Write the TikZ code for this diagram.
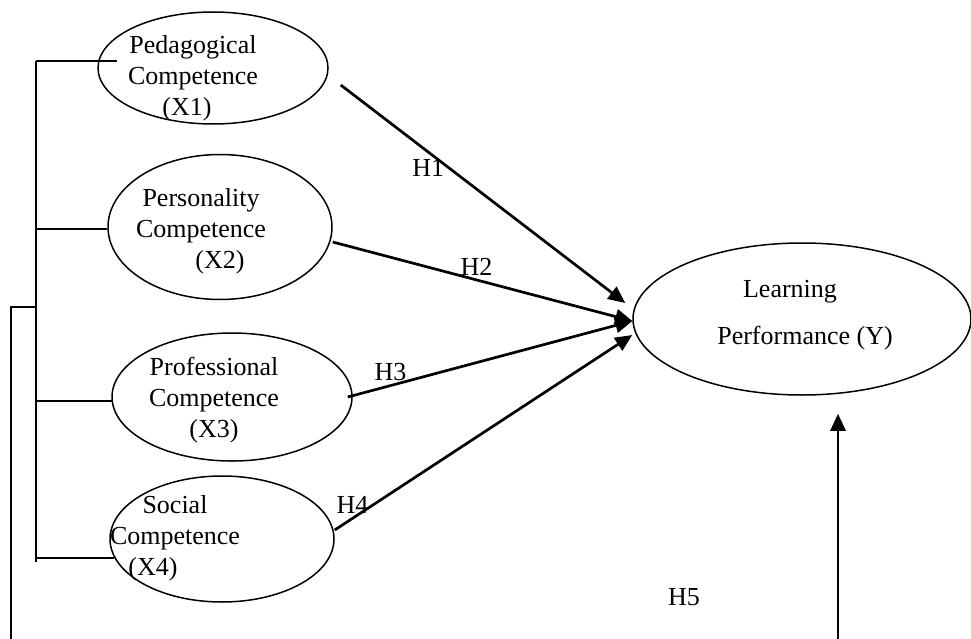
\documentclass[tikz,border=0pt]{standalone}
\usepackage{fontspec}
\setmainfont{Liberation Serif}
\usetikzlibrary{shapes.geometric, arrows.meta, positioning}
\tikzset{
  model/.style={
	x=1pt, y=-1pt, % one unit is one pixel of the scan, y runs down
	font=\fontsize{26}{31}\selectfont, % Times-like text
  },
  construct/.style={ellipse, draw, line width=1.5pt, inner sep=0pt}, % the latent variables
  caption/.style={align=center, inner sep=0pt}, % text set inside an ellipse
  hypo/.style={-{Triangle[length=17pt, width=15pt]}, line width=2.7pt}, % hypothesis arrows
  bracket/.style={line width=1.6pt}, % the joining lines on the left
}
\begin{document}
\begin{tikzpicture}[model]
\useasboundingbox (0,0) rectangle (971,639);

\node[construct, minimum width=230pt, minimum height=112pt] (X1) at (213,68) {};
\node[construct, minimum width=224pt, minimum height=145pt] (X2) at (220,227) {};
\node[construct, minimum width=240pt, minimum height=128pt] (X3) at (232,397) {};
\node[construct, minimum width=224pt, minimum height=126pt] (X4) at (222,539) {};
\node[construct, minimum width=338pt, minimum height=152pt] (Y) at (802,319) {};

\node[caption, xshift=-20pt, yshift=-10pt] (X1text) at (X1) {Pedagogical\\Competence\\\hspace*{-12pt}(X1)};
\node[caption, xshift=-19pt, yshift=-4pt] (X2text) at (X2) {Personality\\Competence\\\hspace*{38pt}(X2)};
\node[caption, xshift=-18pt, yshift=-3pt] (X3text) at (X3) {Professional\\Competence\\(X3)};
\node[caption, xshift=-47pt, yshift=1pt] (X4text) at (X4) {Social\\Competence\\\hspace*{-44pt}(X4)};
\node[caption, xshift=3pt, yshift=4pt] (Ytext) at (Y) {\hspace*{-30pt}Learning\\[16pt]Performance (Y)};

% joining lines
\coordinate (top) at (36,61);
\coordinate (foot) at (36,562);
\coordinate (join) at (36,307);
\coordinate (outer) at (11,639);
\draw[bracket] (top) -- (foot);
\draw[bracket] (top) -- ([xshift=20pt, yshift=7pt]X1.west);
\foreach \n/\a in {X2/181, X3/182, X4/190}
	\draw[bracket] (\n.\a) -- (\n.\a -| top);
\draw[bracket] (outer) |- (join);

% hypotheses
\draw ([xshift=12pt, yshift=-17pt]X1.east) edge[hypo] node[pos=0.38, left] {H1} ([xshift=-7pt, yshift=16pt]Y.west)
	([yshift=-15pt]X2.east) edge[hypo] node[pos=0.48, above] {H2} ([yshift=-2pt]Y.west)
	([xshift=-5pt]X3.east) edge[hypo] node[pos=0.15, above] {H3} ([yshift=-2pt]Y.west)
	([yshift=9pt]X4.east) edge[hypo] node[pos=0.06, above] {H4} ([yshift=-16pt]Y.west)
;

\coordinate (h5base) at (838,639);
\draw[hypo, shorten >=18pt] (h5base) -- (h5base |- Y.south);
\node (h5) at (684,597) {H5};
\end{tikzpicture}
\end{document}
